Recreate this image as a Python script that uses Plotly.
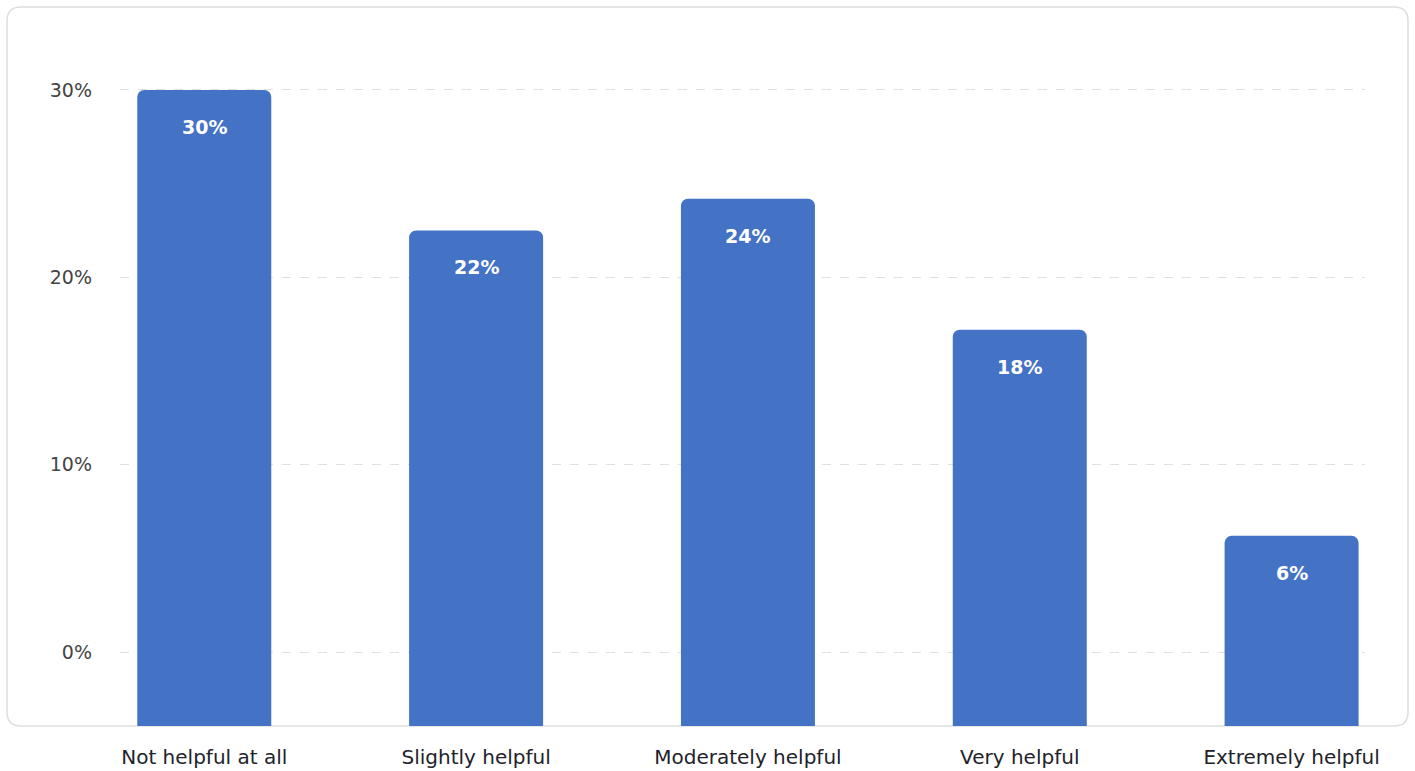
import plotly.graph_objects as go

categories = ["Not helpful at all", "Slightly helpful", "Moderately helpful", "Very helpful", "Extremely helpful"]
values = [30.0, 22.5, 24.2, 17.2, 6.2]
value_labels = ["30%", "22%", "24%", "18%", "6%"]
y_ticks = [0, 10, 20, 30]
y_tick_labels = ["0%", "10%", "20%", "30%"]

Y_MIN, Y_MAX = -3.95, 31.6
BAR_BASE = Y_MIN - 2  # below the visible range so the bottom is cut square
BAR_COLOR = "#4472c4"
FONT = "DejaVu Sans"

fig = go.Figure()
fig.add_trace(go.Bar(
    x=categories,
    y=[v - BAR_BASE for v in values],
    base=BAR_BASE,
    width=0.493,
    marker=dict(color=BAR_COLOR, cornerradius=7, line=dict(width=0)),
    hoverinfo="skip",
))

for c, v, t in zip(categories, values, value_labels):
    fig.add_annotation(x=c, y=v, text=f"<b>{t}</b>", showarrow=False,
                       yshift=-37, yanchor="middle",
                       font=dict(family=FONT, size=19, color="white"))

# card outline (paper coordinates)
L, R, T, B = 120, 1365, 60, 726
W, H = R - L, B - T
def px(x): return (x - L) / W
def py(y): return (B - y) / H
cx0, cx1, cy0, cy1 = 7, 1408, 7, 726
r = 14
path = (f"M {px(cx0+r)},{py(cy0)} L {px(cx1-r)},{py(cy0)} "
        f"Q {px(cx1)},{py(cy0)} {px(cx1)},{py(cy0+r)} "
        f"L {px(cx1)},{py(cy1-r)} Q {px(cx1)},{py(cy1)} {px(cx1-r)},{py(cy1)} "
        f"L {px(cx0+r)},{py(cy1)} Q {px(cx0)},{py(cy1)} {px(cx0)},{py(cy1-r)} "
        f"L {px(cx0)},{py(cy0+r)} Q {px(cx0)},{py(cy0)} {px(cx0+r)},{py(cy0)} Z")
fig.add_shape(type="path", path=path, xref="paper", yref="paper",
              line=dict(color="#dedede", width=1.5), fillcolor="rgba(0,0,0,0)", layer="below")

fig.update_layout(
    width=1415, height=771,
    margin=dict(l=L, r=1415 - R, t=T, b=771 - B, autoexpand=False),
    paper_bgcolor="white", plot_bgcolor="rgba(0,0,0,0)",
    showlegend=False,
    font=dict(family=FONT, color="#333333"),
    xaxis=dict(range=[-0.31, 4.27], showgrid=False, zeroline=False, showline=False,
               ticks="", tickfont=dict(size=20, color="#22222a"),
               ticklabelstandoff=17, automargin=False, fixedrange=True),
    yaxis=dict(range=[Y_MIN, Y_MAX], tickvals=y_ticks, ticktext=y_tick_labels,
               showgrid=True, gridcolor="#e0e0e0", griddash="dash", gridwidth=1,
               zeroline=False, showline=False, ticks="",
               tickfont=dict(size=19, color="#444444"), ticklabelstandoff=27,
               automargin=False, fixedrange=True),
)

fig.write_html("out.html", config={"displayModeBar": False},
               post_script="document.body.style.margin='0';document.body.style.overflow='hidden';")
